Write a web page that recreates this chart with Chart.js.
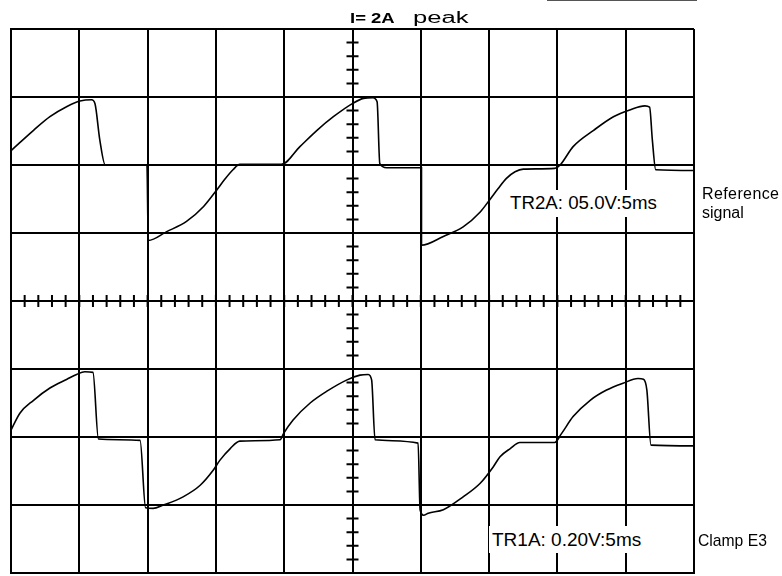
<!DOCTYPE html>
<html>
<head>
<meta charset="utf-8">
<script src="https://cdn.jsdelivr.net/npm/chart.js@4"></script>
<style>
  html, body { margin: 0; padding: 0; background: #fff; }
  #wrap { position: relative; width: 782px; height: 576px; overflow: hidden; font-family: "Liberation Sans", Arial, sans-serif; color: #000; }
  #scope { position: absolute; left: 0; top: 0; }
  .lbl { position: absolute; white-space: nowrap; line-height: 1; }
  .largo { transform-origin: 0 0; }
  .box { background: #fff; padding: 4px 3px; }
  #topline { position: absolute; left: 547px; top: 0; width: 150px; border-top: 1px solid #555; }
</style>
</head>
<body>
<div id="wrap">
  <canvas id="scope" width="782" height="576"></canvas>
  <div id="topline"></div>
  <div class="lbl largo" style="left:350px; top:11px; font-size:14px; font-weight:bold; transform:scaleX(1.32);">I= 2A</div>
  <div class="lbl largo" style="left:413px; top:10px; font-size:16px; transform:scaleX(1.6);">peak</div>
  <div class="lbl box" style="left:507px; top:190px; font-size:18.7px;">TR2A: 05.0V:5ms</div>
  <div class="lbl" style="left:702px; top:186px; font-size:16px; letter-spacing:0.4px;">Reference</div>
  <div class="lbl" style="left:702px; top:205px; font-size:16px;">signal</div>
  <div class="lbl box" style="left:489px; top:526px; font-size:19px;">TR1A: 0.20V:5ms</div>
  <div class="lbl" style="left:698px; top:533px; font-size:15.7px;">Clamp E3</div>
</div>
<script>
// Posições em divisões da tela: x = 0..10 (5 ms/div), y = -4..4
// Canal de cima: sinal de referência (TR2A)
const refTime = [
  0.01, 0.33, 0.57, 0.82, 1.01, 1.18, 1.23, 1.30, 1.38, 1.99,
  2.01, 2.28, 2.57, 2.82, 3.01, 3.13, 3.25, 3.35, 3.96,
  4.23, 4.48, 4.72, 5.01, 5.16, 5.30, 5.36, 5.40, 5.50, 6.01,
  6.01, 6.33, 6.62, 6.87, 7.01, 7.13, 7.25, 7.38, 7.50, 7.96,
  8.04, 8.23, 8.53, 8.82, 9.06, 9.28, 9.35, 9.39, 9.44, 9.99,
];
const refLevel = [
  2.22, 2.51, 2.71, 2.86, 2.94, 2.96, 2.90, 2.37, 2.00, 2.00,
  0.89, 1.02, 1.17, 1.39, 1.63, 1.79, 1.93, 2.01, 2.01,
  2.27, 2.51, 2.71, 2.91, 2.98, 2.99, 2.93, 2.02, 1.96, 1.96,
  0.82, 0.95, 1.09, 1.31, 1.49, 1.65, 1.80, 1.90, 1.94, 1.95,
  2.00, 2.27, 2.51, 2.71, 2.81, 2.87, 2.85, 2.37, 1.93, 1.92,
];

// Canal de baixo: pinça amperimétrica (TR1A)
const clampTime = [
  0.00, 0.13, 0.33, 0.57, 0.82, 0.96, 1.08, 1.20, 1.28, 1.89,
  1.97, 2.08, 2.23, 2.52, 2.77, 2.96, 3.06, 3.21, 3.35, 3.94,
  3.99, 4.13, 4.38, 4.62, 4.92, 5.11, 5.23, 5.28, 5.33, 5.96,
  5.99, 6.04, 6.11, 6.33, 6.62, 6.87, 7.06, 7.16, 7.31, 7.45, 7.96,
  8.06, 8.23, 8.48, 8.72, 8.96, 9.18, 9.26, 9.31, 9.37, 9.99,
];
const clampLevel = [
  -1.90, -1.65, -1.46, -1.28, -1.15, -1.08, -1.04, -1.05, -2.03, -2.05,
  -3.04, -3.05, -3.00, -2.88, -2.71, -2.49, -2.34, -2.17, -2.06, -2.04,
  -1.95, -1.75, -1.50, -1.33, -1.16, -1.09, -1.08, -1.16, -2.04, -2.09,
  -3.07, -3.15, -3.12, -3.07, -2.88, -2.68, -2.44, -2.29, -2.17, -2.08, -2.08,
  -1.95, -1.70, -1.46, -1.31, -1.21, -1.14, -1.15, -1.31, -2.12, -2.13,
];

const divisoesX = 10;
const divisoesY = 4;
const subdivisoes = 5;

function pontos(tempos, niveis) {
  return tempos.map((t, i) => ({ x: t, y: niveis[i] }));
}

// Marcas das subdivisões nos eixos centrais (como no retículo do osciloscópio)
const reticuloCentral = {
  id: "reticuloCentral",
  beforeDatasetsDraw(chart) {
    const { ctx, scales: { x, y } } = chart;
    const cx = x.getPixelForValue(divisoesX / 2);
    const cy = y.getPixelForValue(0);
    const meia = 6;
    ctx.save();
    ctx.strokeStyle = "#000";
    ctx.lineWidth = 2;
    ctx.beginPath();
    for (let i = 0; i <= divisoesX * subdivisoes; i++) {
      const px = x.getPixelForValue(i / subdivisoes);
      ctx.moveTo(px, cy - meia);
      ctx.lineTo(px, cy + meia);
    }
    for (let i = -divisoesY * subdivisoes; i <= divisoesY * subdivisoes; i++) {
      const py = y.getPixelForValue(i / subdivisoes);
      ctx.moveTo(cx - meia, py);
      ctx.lineTo(cx + meia, py);
    }
    ctx.stroke();
    ctx.restore();
  },
};

function eixo(min, max) {
  return {
    type: "linear",
    min,
    max,
    ticks: { display: false, stepSize: 1 },
    grid: { color: "#000", lineWidth: 2, drawTicks: false },
    border: { display: true, color: "#000", width: 2 },
  };
}

function traco(data) {
  return {
    data,
    borderColor: "#000",
    borderWidth: 1.6,
    pointRadius: 0,
    showLine: true,
    fill: false,
    cubicInterpolationMode: "monotone",
  };
}

new Chart(document.getElementById("scope"), {
  type: "scatter",
  data: {
    datasets: [
      traco(pontos(refTime, refLevel)),
      traco(pontos(clampTime, clampLevel)),
    ],
  },
  options: {
    responsive: false,
    animation: false,
    layout: { padding: { left: 11, top: 29, right: 88, bottom: 3 } },
    plugins: { legend: { display: false }, tooltip: { enabled: false } },
    scales: {
      x: eixo(0, divisoesX),
      y: eixo(-divisoesY, divisoesY),
    },
  },
  plugins: [reticuloCentral],
});
</script>
</body>
</html>
